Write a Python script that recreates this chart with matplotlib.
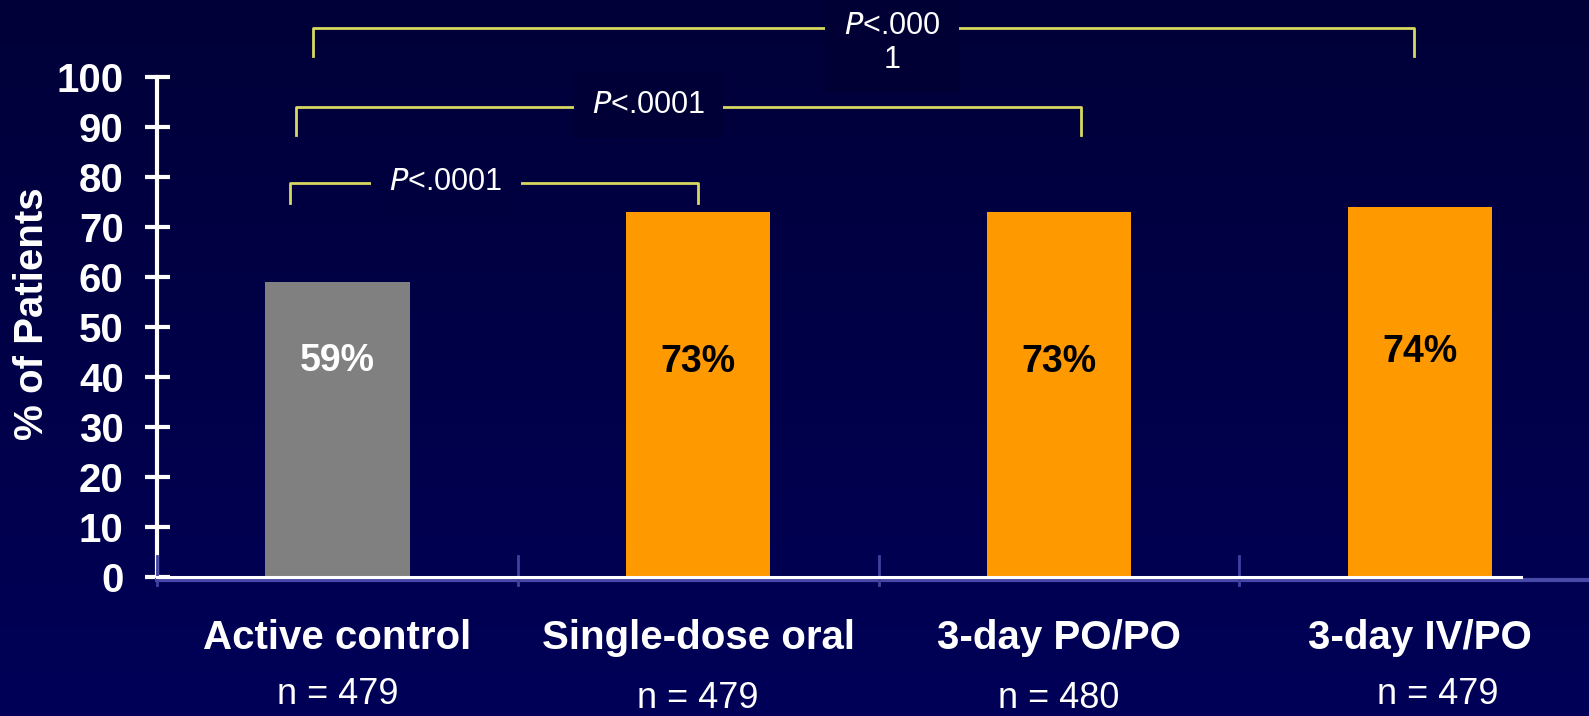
import matplotlib.pyplot as plt
import matplotlib
import matplotlib.transforms as mtransforms
import numpy as np

matplotlib.rcParams['font.family'] = ['Liberation Sans', 'DejaVu Sans']

# 데이터
groups = ['Active control', 'Single-dose oral', '3-day PO/PO', '3-day IV/PO']
n_labels = ['n = 479', 'n = 479', 'n = 480', 'n = 479']
n_offset = [0, -4, -4, 0]          # n 라벨 높이 차이 (px)
n_shift = [0, 0, 0, 0.05]
rates = [59, 73, 73, 74]
bar_colors = ['#808080', '#ff9900', '#ff9900', '#ff9900']
label_colors = ['white', 'black', 'black', 'black']
label_y = [43.2, 43.0, 43.0, 45.0]

# 비교 괄호: (왼쪽 x, 오른쪽 x, 아래 y, 위 y, 텍스트 x, 텍스트 y, 텍스트, 상자색)
brackets = [
    (-0.13, 1.00, 74.9, 78.9, 0.30, 78.9, '$\\mathit{P}$<.0001', '#00003f'),
    (-0.115, 2.06, 88.4, 94.1, 0.862, 94.4, '$\\mathit{P}$<.0001', '#000036'),
    (-0.067, 2.985, 104.3, 109.9, 1.537, 106.8, '$\\mathit{P}$<.000\n1', '#000034'),
]

W, H = 1589, 716
fig = plt.figure(figsize=(W / 100, H / 100), dpi=100)

# 배경 그라데이션
bg = fig.add_axes([0, 0, 1, 1])
bg.set_axis_off()
grad = np.linspace(0, 1, 256).reshape(-1, 1)
cmap = matplotlib.colors.LinearSegmentedColormap.from_list('bg', ['#000038', '#000058'])
bg.imshow(grad, aspect='auto', cmap=cmap, extent=[0, 1, 0, 1])

ax = fig.add_axes([157 / W, 139 / H, 1 - 157 / W, 500 / H])
ax.set_facecolor('none')
x = np.arange(len(groups))
ax.bar(x, rates, width=0.4, color=bar_colors, zorder=2)
ax.set_xlim(-0.5, 3.469)
ax.set_ylim(0, 100)

for s in ['top', 'right', 'bottom']:
    ax.spines[s].set_visible(False)
ax.spines['left'].set_color('white')
ax.spines['left'].set_linewidth(3)
ax.spines['left'].set_bounds(0, 100)

ax.set_yticks(range(0, 101, 10))
ax.tick_params(axis='y', direction='inout', length=18, width=3, color='white',
               labelcolor='white', labelsize=29, pad=15)
for t in ax.get_yticklabels():
    t.set_fontweight('bold')
ax.set_xticks([])

# x축 (흰 선 + 파란 그림자)
ax.plot([-0.5, 3.469], [-0.6, -0.6], color='#4848a8', lw=3, clip_on=False, zorder=3)
ax.plot([-0.5, 3.28], [0, 0], color='white', lw=2.2, clip_on=False, zorder=4)
for xb in [-0.5, 0.5, 1.5, 2.5]:
    ax.plot([xb, xb], [-1.6, 4.3], color='#4040a0', lw=2, clip_on=False, zorder=3)

ax.set_ylabel('% of Patients', color='white', fontsize=29, fontweight='bold', labelpad=4)
ax.yaxis.label.set_y(0.526)

# 값 라벨
for i in range(len(groups)):
    ax.text(x[i], label_y[i], f'{rates[i]}%', color=label_colors[i], fontsize=27,
            fontweight='bold', ha='center', va='center', zorder=5)

# 그룹 이름, n 수
trans = mtransforms.blended_transform_factory(ax.transData, fig.transFigure)
for i in range(len(groups)):
    ax.text(x[i], 1 - 638 / H, groups[i], transform=trans, color='white', fontsize=29,
            fontweight='bold', ha='center', va='center')
    ax.text(x[i] + n_shift[i], 1 - (694 - n_offset[i]) / H, n_labels[i], transform=trans,
            color='white', fontsize=26, ha='center', va='center')

# 유의성 괄호
for x0, x1, yb, yt, tx, ty, txt, fc in brackets:
    ax.plot([x0, x0, x1, x1], [yb, yt, yt, yb], color='#d8d860', lw=2,
            clip_on=False, zorder=3)
    ax.text(tx, ty, txt, color='white', fontsize=22, ha='center', va='center',
            linespacing=1.15, zorder=6, clip_on=False,
            bbox=dict(boxstyle='square,pad=0.6', fc=fc, ec='none'))

plt.savefig('out.png', dpi=100)
